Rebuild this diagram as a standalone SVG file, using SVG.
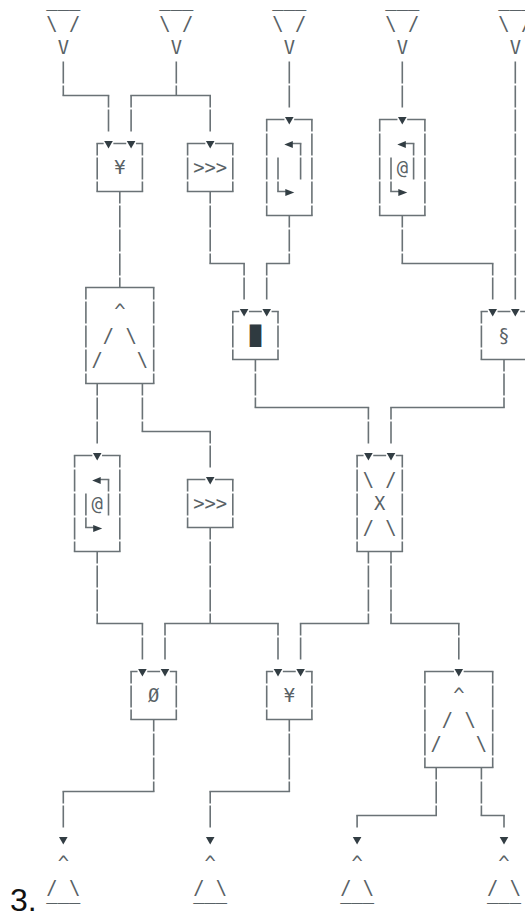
<svg xmlns="http://www.w3.org/2000/svg" xmlns:xlink="http://www.w3.org/1999/xlink" width="525" height="913" viewBox="0 0 525 913">
  <style>
    .h { fill: none; stroke: #6a7276; stroke-width: 1.6; stroke-linecap: square; }
    .v { fill: none; stroke: #6a7276; stroke-width: 1.6; stroke-linecap: butt; stroke-dasharray: 22 2; }
    .vc { fill: none; stroke: #6a7276; stroke-width: 1.6; stroke-linecap: butt; stroke-dasharray: 22 2; stroke-dashoffset: 10; }
    .t { font-family: "DejaVu Sans Mono", monospace; font-size: 18.8px; fill: #596266; text-anchor: middle; }
    .blk { font-family: "DejaVu Sans Mono", monospace; font-size: 18.8px; fill: #2f3a40; text-anchor: middle; }
    .dk { fill: #323d43; }
    .num { font-family: "Liberation Sans", Arial, sans-serif; font-size: 32px; fill: #111; }
  </style>
  <defs>
    <path id="tri-down" class="dk" d="M-4.3,-2.5 L4.3,-2.5 L0,5 Z"/>
    <path id="tri-left" class="dk" d="M-5,1 L3.5,-2.4 L3.5,4.4 Z"/>
    <path id="tri-right" class="dk" d="M5,1 L-4,-2.4 L-4,4.4 Z"/>
  </defs>

  <rect width="525" height="913" fill="#ffffff"/>

  <!-- list marker -->
  <text class="num" x="10" y="911">3.</text>

  <!-- sources -->
  <g id="in1">
    <text class="t" x="63.3" y="6">___</text>
    <text class="t" x="63.3" y="30">\ /</text>
    <text class="t" x="63.3" y="54">V</text>
  </g>
  <g id="in2">
    <text class="t" x="176.3" y="6">___</text>
    <text class="t" x="176.3" y="30">\ /</text>
    <text class="t" x="176.3" y="54">V</text>
  </g>
  <g id="in3">
    <text class="t" x="289.3" y="6">___</text>
    <text class="t" x="289.3" y="30">\ /</text>
    <text class="t" x="289.3" y="54">V</text>
  </g>
  <g id="in4">
    <text class="t" x="402.3" y="6">___</text>
    <text class="t" x="402.3" y="30">\ /</text>
    <text class="t" x="402.3" y="54">V</text>
  </g>
  <g id="in5">
    <text class="t" x="515.3" y="6">___</text>
    <text class="t" x="515.3" y="30">\ /</text>
    <text class="t" x="515.3" y="54">V</text>
  </g>

  <!-- first row of operators -->
  <g id="yen1">
    <path class="h" d="M97.2 143.5 H102.85 M114.15 143.5 H125.45 M136.75 143.5 H142.4 M97.2 191.5 H142.4"/>
    <path class="vc" d="M97.2 143.5 V191.5 M142.4 143.5 V191.5"/>
    <text class="t" x="119.8" y="174">¥</text>
  </g>
  <g id="shift1">
    <path class="h" d="M187.6 143.5 H204.55 M215.85 143.5 H232.8 M187.6 191.5 H232.8"/>
    <path class="vc" d="M187.6 143.5 V191.5 M232.8 143.5 V191.5"/>
    <text class="t" x="210.2" y="174">&gt;&gt;&gt;</text>
  </g>
  <g id="loop1">
    <path class="h" d="M266.7 119.5 H283.65 M294.95 119.5 H311.9 M266.7 215.5 H311.9"/>
    <path class="vc" d="M266.7 119.5 V215.5 M311.9 119.5 V215.5"/>
    <path class="h" d="M292.8 143.5 H300.6 M278 191.5 H285.3"/>
    <path class="vc" d="M300.6 143.5 V179.5"/>
    <path class="v" d="M278 157.5 V191.5"/>
    <use xlink:href="#tri-left" x="289.3" y="143.5"/>
    <use xlink:href="#tri-right" x="289.3" y="191.5"/>
  </g>
  <g id="loop2">
    <path class="h" d="M379.7 119.5 H396.65 M407.95 119.5 H424.9 M379.7 215.5 H424.9"/>
    <path class="vc" d="M379.7 119.5 V215.5 M424.9 119.5 V215.5"/>
    <path class="h" d="M405.8 143.5 H413.6 M391 191.5 H398.3"/>
    <path class="vc" d="M413.6 143.5 V179.5"/>
    <path class="v" d="M391 157.5 V191.5"/>
    <use xlink:href="#tri-left" x="402.3" y="143.5"/>
    <use xlink:href="#tri-right" x="402.3" y="191.5"/>
    <text class="t" x="402.3" y="174">@</text>
  </g>

  <!-- second row -->
  <g id="split1">
    <path class="h" d="M85.9 287.5 H153.7 M85.9 383.5 H153.7"/>
    <path class="vc" d="M85.9 287.5 V383.5 M153.7 287.5 V383.5"/>
    <text class="t" x="119.8" y="318">^</text>
    <text class="t" x="108.5" y="342">/</text>
    <text class="t" x="131.1" y="342">\</text>
    <text class="t" x="97.2" y="366">/</text>
    <text class="t" x="142.4" y="366">\</text>
  </g>
  <g id="block">
    <path class="h" d="M232.8 311.5 H238.45 M249.75 311.5 H261.05 M272.35 311.5 H278 M232.8 359.5 H278"/>
    <path class="vc" d="M232.8 311.5 V359.5 M278 311.5 V359.5"/>
    <text class="blk" x="255.4" y="342">█</text>
  </g>
  <g id="section">
    <path class="h" d="M481.4 311.5 H487.05 M498.35 311.5 H509.65 M520.95 311.5 H526.6 M481.4 359.5 H526.6"/>
    <path class="vc" d="M481.4 311.5 V359.5 M526.6 311.5 V359.5"/>
    <text class="t" x="504" y="342">§</text>
  </g>

  <!-- third row -->
  <g id="loop3">
    <path class="h" d="M74.6 455.5 H91.55 M102.85 455.5 H119.8 M74.6 551.5 H119.8"/>
    <path class="vc" d="M74.6 455.5 V551.5 M119.8 455.5 V551.5"/>
    <path class="h" d="M100.7 479.5 H108.5 M85.9 527.5 H93.2"/>
    <path class="vc" d="M108.5 479.5 V515.5"/>
    <path class="v" d="M85.9 493.5 V527.5"/>
    <use xlink:href="#tri-left" x="97.2" y="479.5"/>
    <use xlink:href="#tri-right" x="97.2" y="527.5"/>
    <text class="t" x="97.2" y="510">@</text>
  </g>
  <g id="shift2">
    <path class="h" d="M187.6 479.5 H204.55 M215.85 479.5 H232.8 M187.6 527.5 H232.8"/>
    <path class="vc" d="M187.6 479.5 V527.5 M232.8 479.5 V527.5"/>
    <text class="t" x="210.2" y="510">&gt;&gt;&gt;</text>
  </g>
  <g id="cross">
    <path class="h" d="M357.1 455.5 H362.75 M374.05 455.5 H385.35 M396.65 455.5 H402.3 M357.1 551.5 H402.3"/>
    <path class="vc" d="M357.1 455.5 V551.5 M402.3 455.5 V551.5"/>
    <text class="t" x="368.4" y="486">\</text>
    <text class="t" x="391" y="486">/</text>
    <text class="t" x="379.7" y="510">X</text>
    <text class="t" x="368.4" y="534">/</text>
    <text class="t" x="391" y="534">\</text>
  </g>

  <!-- fourth row -->
  <g id="empty">
    <path class="h" d="M131.1 671.5 H136.75 M148.05 671.5 H159.35 M170.65 671.5 H176.3 M131.1 719.5 H176.3"/>
    <path class="vc" d="M131.1 671.5 V719.5 M176.3 671.5 V719.5"/>
    <text class="t" x="153.7" y="702">Ø</text>
  </g>
  <g id="yen2">
    <path class="h" d="M266.7 671.5 H272.35 M283.65 671.5 H294.95 M306.25 671.5 H311.9 M266.7 719.5 H311.9"/>
    <path class="vc" d="M266.7 671.5 V719.5 M311.9 671.5 V719.5"/>
    <text class="t" x="289.3" y="702">¥</text>
  </g>
  <g id="split2">
    <path class="h" d="M424.9 671.5 H453.15 M464.45 671.5 H492.7 M424.9 767.5 H492.7"/>
    <path class="vc" d="M424.9 671.5 V767.5 M492.7 671.5 V767.5"/>
    <text class="t" x="458.8" y="702">^</text>
    <text class="t" x="447.5" y="726">/</text>
    <text class="t" x="470.1" y="726">\</text>
    <text class="t" x="436.2" y="750">/</text>
    <text class="t" x="481.4" y="750">\</text>
  </g>

  <!-- sinks -->
  <g id="out1">
    <text class="t" x="63.3" y="870">^</text>
    <text class="t" x="63.3" y="894">/ \</text>
    <text class="t" x="63.3" y="918">‾‾‾</text>
  </g>
  <g id="out2">
    <text class="t" x="210.2" y="870">^</text>
    <text class="t" x="210.2" y="894">/ \</text>
    <text class="t" x="210.2" y="918">‾‾‾</text>
  </g>
  <g id="out3">
    <text class="t" x="357.1" y="870">^</text>
    <text class="t" x="357.1" y="894">/ \</text>
    <text class="t" x="357.1" y="918">‾‾‾</text>
  </g>
  <g id="out4">
    <text class="t" x="504" y="870">^</text>
    <text class="t" x="504" y="894">/ \</text>
    <text class="t" x="504" y="918">‾‾‾</text>
  </g>

  <!-- wiring -->
  <g id="connectors">
    <path class="h" d="M63.3 95.5 H108.5 M131.1 95.5 H210.2
                       M210.2 263.5 H244.1 M266.7 263.5 H289.3 M402.3 263.5 H492.7
                       M142.4 431.5 H210.2 M255.4 407.5 H368.4 M391 407.5 H504
                       M97.2 623.5 H142.4 M165 623.5 H278 M300.6 623.5 H368.4 M391 623.5 H458.8
                       M63.3 791.5 H153.7 M210.2 791.5 H289.3 M357.1 815.5 H436.2 M481.4 815.5 H504"/>
    <path class="v" d="M63.3 61.5 V95.5 M176.3 61.5 V95.5 M289.3 61.5 V107.5 M402.3 61.5 V107.5 M515.3 61.5 V299.5"/>
    <path class="vc" d="M108.5 95.5 V131.5 M131.1 95.5 V131.5 M210.2 95.5 V131.5
                        M119.8 191.5 V287.5
                        M210.2 191.5 V263.5 M244.1 263.5 V299.5
                        M289.3 215.5 V263.5 M266.7 263.5 V299.5
                        M402.3 215.5 V263.5 M492.7 263.5 V299.5
                        M97.2 383.5 V443.5
                        M142.4 383.5 V431.5 M210.2 431.5 V467.5
                        M255.4 359.5 V407.5 M368.4 407.5 V443.5
                        M504 359.5 V407.5 M391 407.5 V443.5
                        M97.2 551.5 V623.5 M142.4 623.5 V659.5
                        M210.2 527.5 V623.5 M165 623.5 V659.5 M278 623.5 V659.5
                        M368.4 551.5 V623.5 M300.6 623.5 V659.5
                        M391 551.5 V623.5 M458.8 623.5 V659.5
                        M153.7 719.5 V791.5 M63.3 791.5 V827.5
                        M289.3 719.5 V791.5 M210.2 791.5 V827.5
                        M436.2 767.5 V815.5 M357.1 815.5 V827.5
                        M481.4 767.5 V815.5 M504 815.5 V827.5"/>
    <use xlink:href="#tri-down" x="108.5" y="143.5"/>
    <use xlink:href="#tri-down" x="131.1" y="143.5"/>
    <use xlink:href="#tri-down" x="210.2" y="143.5"/>
    <use xlink:href="#tri-down" x="289.3" y="119.5"/>
    <use xlink:href="#tri-down" x="402.3" y="119.5"/>
    <use xlink:href="#tri-down" x="244.1" y="311.5"/>
    <use xlink:href="#tri-down" x="266.7" y="311.5"/>
    <use xlink:href="#tri-down" x="492.7" y="311.5"/>
    <use xlink:href="#tri-down" x="515.3" y="311.5"/>
    <use xlink:href="#tri-down" x="97.2" y="455.5"/>
    <use xlink:href="#tri-down" x="210.2" y="479.5"/>
    <use xlink:href="#tri-down" x="368.4" y="455.5"/>
    <use xlink:href="#tri-down" x="391" y="455.5"/>
    <use xlink:href="#tri-down" x="142.4" y="671.5"/>
    <use xlink:href="#tri-down" x="165" y="671.5"/>
    <use xlink:href="#tri-down" x="278" y="671.5"/>
    <use xlink:href="#tri-down" x="300.6" y="671.5"/>
    <use xlink:href="#tri-down" x="458.8" y="671.5"/>
    <use xlink:href="#tri-down" x="63.3" y="839.5"/>
    <use xlink:href="#tri-down" x="210.2" y="839.5"/>
    <use xlink:href="#tri-down" x="357.1" y="839.5"/>
    <use xlink:href="#tri-down" x="504" y="839.5"/>
  </g>
</svg>
